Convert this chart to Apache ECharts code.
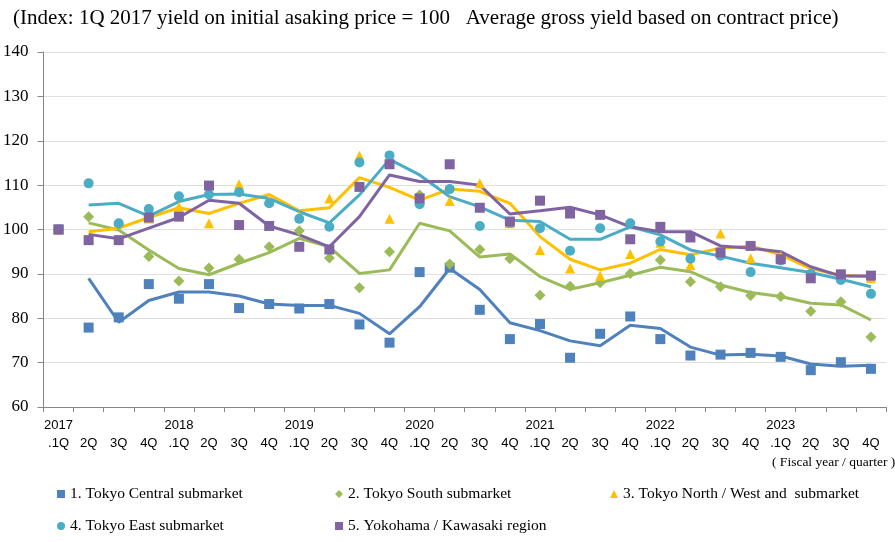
<!DOCTYPE html>
<html>
<head>
<meta charset="utf-8">
<script src="https://cdn.jsdelivr.net/npm/echarts@6/dist/echarts.min.js"></script>
<style>
  html, body { margin: 0; padding: 0; background: #fff; }
  #chart { width: 895px; height: 542px; }
</style>
</head>
<body>
<div id="chart"></div>
<script>
// quarter labels (fiscal year / quarter)
const categories = [
  '2017\n.1Q', '2Q', '3Q', '4Q',
  '2018\n.1Q', '2Q', '3Q', '4Q',
  '2019\n.1Q', '2Q', '3Q', '4Q',
  '2020\n.1Q', '2Q', '3Q', '4Q',
  '2021\n.1Q', '2Q', '3Q', '4Q',
  '2022\n.1Q', '2Q', '3Q', '4Q',
  '2023\n.1Q', '2Q', '3Q', '4Q'
];

const seriesNames = [
  '1. Tokyo Central submarket',
  '2. Tokyo South submarket',
  '3. Tokyo North / West and  submarket',
  '4. Tokyo East submarket',
  '5. Yokohama / Kawasaki region'
];

// quarterly index (markers)
const centralPts = [100, 77.9, 80.2, 87.7, 84.4, 87.7, 82.3, 83.2, 82.2, 83.2, 78.6, 74.5, 90.4, 91.4, 81.9, 75.3, 78.7, 71.1, 76.5, 80.4, 75.3, 71.6, 71.8, 72.2, 71.3, 68.3, 70.1, 68.6];
const southPts   = [100, 102.9, 101.0, 93.9, 88.4, 91.3, 93.3, 96.1, 99.7, 93.6, 86.9, 95.0, 107.8, 92.2, 95.5, 93.4, 85.2, 87.2, 88.0, 90.1, 93.1, 88.2, 87.1, 85.1, 84.9, 81.6, 83.7, 75.8];
const northPts   = [100, 98.0, 101.5, 102.5, 105.1, 101.4, 110.2, 106.5, 103.0, 107.0, 116.6, 102.4, 107.2, 106.4, 110.4, 101.4, 95.4, 91.2, 89.6, 94.5, 97.0, 92.0, 99.1, 93.5, 94.0, 90.0, 89.5, 89.0];
const eastPts    = [100, 110.4, 101.4, 104.6, 107.5, 107.9, 108.4, 105.9, 102.4, 100.6, 115.1, 116.7, 105.7, 109.1, 100.8, 101.5, 100.3, 95.2, 100.3, 101.4, 97.3, 93.4, 94.1, 90.4, 93.0, 90.0, 88.6, 85.5];
const yokoPts    = [100, 97.6, 97.6, 102.7, 102.9, 109.9, 101.0, 100.8, 96.1, 95.5, 109.6, 114.7, 107.0, 114.7, 104.9, 101.8, 106.5, 103.6, 103.3, 97.8, 100.6, 98.2, 94.8, 96.3, 93.3, 89.0, 89.9, 89.6];

// trend lines
const centralAvg = [null, 89.0, 79.1, 84.0, 85.9, 85.9, 85.0, 83.2, 82.9, 82.9, 81.1, 76.5, 82.6, 91.2, 86.5, 79.0, 77.2, 74.9, 73.8, 78.4, 77.7, 73.5, 71.7, 71.9, 71.5, 69.7, 69.2, 69.4];
const southAvg   = [null, 101.5, 99.9, 95.4, 91.2, 89.8, 92.4, 94.8, 98.0, 96.1, 90.1, 90.9, 101.4, 99.7, 93.8, 94.5, 89.4, 86.5, 88.0, 89.7, 91.5, 90.5, 87.5, 85.8, 84.9, 83.4, 83.0, 79.6];
const northAvg   = [null, 99.5, 100.3, 102.7, 104.9, 103.6, 105.9, 107.9, 104.2, 104.9, 111.7, 109.5, 106.6, 109.1, 108.6, 105.9, 98.4, 93.3, 90.9, 92.4, 95.5, 94.3, 95.8, 96.3, 94.3, 91.2, 89.7, 89.3];
const eastAvg    = [null, 105.5, 105.9, 103.0, 106.3, 107.9, 108.0, 107.0, 104.0, 101.5, 107.8, 115.8, 112.3, 107.4, 105.1, 102.1, 101.8, 97.8, 97.8, 100.6, 98.8, 95.4, 94.0, 92.4, 91.4, 90.3, 88.8, 87.1];
const yokoAvg    = [null, 98.9, 97.9, 100.3, 102.7, 106.6, 105.9, 100.8, 98.8, 96.1, 102.9, 112.3, 110.8, 110.8, 110.0, 103.5, 104.2, 105.0, 103.3, 100.6, 99.5, 99.5, 96.3, 95.8, 95.0, 91.6, 89.5, 89.5];

const colors  = ['#4F81BD', '#9BBB59', '#FFC000', '#4BACC6', '#8064A2'];
const symbols = ['rect', 'diamond', 'triangle', 'circle', 'rect'];
const points  = [centralPts, southPts, northPts, eastPts, yokoPts];
const trends  = [centralAvg, southAvg, northAvg, eastAvg, yokoAvg];

const serif = '"Times New Roman", "Liberation Serif", serif';
const sans = 'Arial, "Liberation Sans", sans-serif';

const chart = echarts.init(document.getElementById('chart'));

const lineSeries = trends.map((d, i) => ({
    name: seriesNames[i] + ' trend',
    type: 'line',
    data: d,
    showSymbol: false,
    symbol: 'none',
    lineStyle: { color: colors[i], width: 3 },
    itemStyle: { color: colors[i] },
    z: 2,
    animation: false
}));

const scatterSeries = points.map((d, i) => ({
    name: seriesNames[i],
    type: 'scatter',
    data: d,
    symbol: symbols[i],
    symbolSize: i === 1 ? 11 : 10,
    itemStyle: { color: colors[i], opacity: 1 },
    z: 3,
    animation: false
}));

// one legend block per item, laid out in two rows like the original
const legendPos = [
    { left: 52, top: 481 },
    { left: 330, top: 481 },
    { left: 605, top: 481 },
    { left: 52, top: 513 },
    { left: 330, top: 513 }
];

const option = {
    backgroundColor: '#fff',
    animation: false,
    title: {
        text: '(Index: 1Q 2017 yield on initial asaking price = 100   Average gross yield based on contract price)',
        left: 8,
        top: 3,
        textStyle: { fontFamily: serif, fontSize: 21, fontWeight: 'normal', color: '#000' }
    },
    legend: legendPos.map((p, i) => ({
        data: [seriesNames[i]],
        left: p.left,
        top: p.top,
        itemWidth: 8,
        itemHeight: 8,
        selectedMode: false,
        textStyle: { fontFamily: serif, fontSize: 15.5, color: '#000' }
    })),
    grid: { left: 42, right: 9, top: 52, bottom: 135 },
    xAxis: {
        type: 'category',
        data: categories,
        boundaryGap: true,
        axisLine: { lineStyle: { color: '#868686', width: 1 } },
        axisTick: { show: true, interval: 0, length: 5, lineStyle: { color: '#868686' } },
        axisLabel: {
            interval: 0,
            margin: 9,
            color: '#000',
            fontFamily: sans,
            fontSize: 13,
            lineHeight: 18,
            formatter: v => (v.indexOf('\n') >= 0 ? v : ' \n' + v)
        },
        splitLine: { show: false }
    },
    yAxis: {
        type: 'value',
        min: 60,
        max: 140,
        interval: 10,
        axisLine: { show: true, lineStyle: { color: '#868686', width: 1 } },
        axisTick: { show: true, length: 6, lineStyle: { color: '#868686' } },
        axisLabel: { margin: 15, color: '#000', fontFamily: serif, fontSize: 17 },
        splitLine: { lineStyle: { color: '#bfbfbf', type: 'dotted', width: 1 } }
    },
    graphic: [{
        type: 'text',
        left: 772,
        top: 455,
        style: {
            text: '( Fiscal year / quarter )',
            font: '13.5px ' + serif,
            fill: '#000'
        }
    }],
    series: lineSeries.concat(scatterSeries)
};

chart.setOption(option);
</script>
</body>
</html>
